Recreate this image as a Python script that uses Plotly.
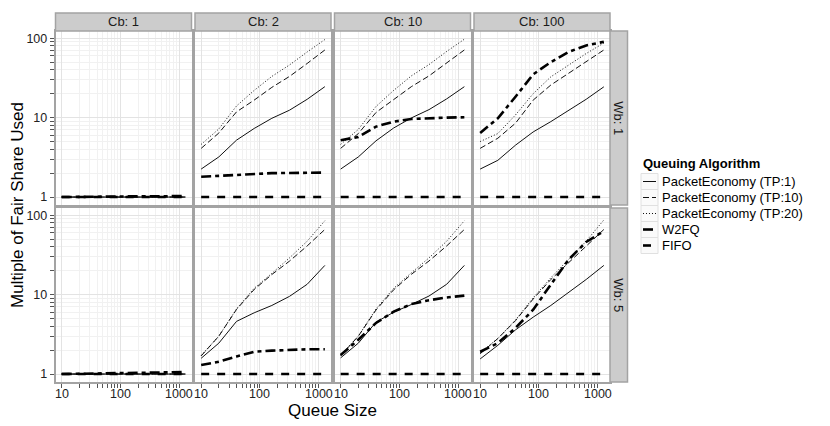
import math
import plotly.graph_objects as go

W, H = 830, 426

# ---------------- data ----------------
queue_size = [10, 20, 40, 80, 160, 320, 640, 1280]

cb_labels = ["Cb: 1", "Cb: 2", "Cb: 10", "Cb: 100"]
wb_labels = ["Wb: 1", "Wb: 5"]
series_names = ["PacketEconomy (TP:1)", "PacketEconomy (TP:10)",
                "PacketEconomy (TP:20)", "W2FQ", "FIFO"]

x_tick_vals = [10, 100, 1000]
x_tick_text = ["10", "100", "1000"]
x_minor_vals = [20, 30, 40, 50, 60, 70, 80, 90, 200, 300, 400, 500, 600, 700, 800, 900]
y_tick_vals = [1, 10, 100]
y_tick_text = ["1", "10", "100"]
y_minor_vals = [2, 3, 4, 5, 6, 7, 8, 9, 20, 30, 40, 50, 60, 70, 80, 90]

# Wb: 1
wb1_cb1_tp1 = [1.00, 1.00, 1.00, 1.00, 1.00, 1.00, 1.00, 1.00]
wb1_cb1_tp10 = [1.00, 1.00, 1.00, 1.00, 1.00, 1.00, 1.00, 1.00]
wb1_cb1_tp20 = [1.00, 1.00, 1.00, 1.00, 1.00, 1.00, 1.00, 1.00]
wb1_cb1_w2fq = [1.00, 1.01, 1.02, 1.01, 1.02, 1.02, 1.03, 1.03]
wb1_cb1_fifo = [1.00, 1.00, 1.00, 1.00, 1.00, 1.00, 1.00, 1.00]

wb1_cb2_tp1 = [2.25, 3.2, 5.2, 7.3, 9.8, 12.4, 17.0, 24.5]
wb1_cb2_tp10 = [4.1, 6.4, 11.8, 16.6, 24.0, 33.0, 48.0, 71.0]
wb1_cb2_tp20 = [4.6, 7.2, 14.0, 22.0, 33.0, 46.0, 67.0, 96.0]
wb1_cb2_w2fq = [1.80, 1.85, 1.93, 1.97, 2.00, 2.01, 2.02, 2.03]
wb1_cb2_fifo = [1.00, 1.00, 1.00, 1.00, 1.00, 1.00, 1.00, 1.00]

wb1_cb10_tp1 = [2.25, 3.2, 5.1, 7.4, 9.9, 12.6, 17.2, 24.5]
wb1_cb10_tp10 = [4.1, 6.3, 11.6, 16.8, 24.5, 33.5, 48.5, 71.0]
wb1_cb10_tp20 = [4.6, 7.1, 13.8, 22.0, 33.5, 46.5, 68.0, 97.0]
wb1_cb10_w2fq = [5.2, 5.7, 7.7, 8.9, 9.6, 9.9, 10.0, 10.1]
wb1_cb10_fifo = [1.00, 1.00, 1.00, 1.00, 1.00, 1.00, 1.00, 1.00]

wb1_cb100_tp1 = [2.25, 2.9, 4.5, 6.6, 8.9, 12.4, 17.0, 24.4]
wb1_cb100_tp10 = [4.1, 5.5, 8.5, 16.6, 25.7, 36.0, 50.0, 71.0]
wb1_cb100_tp20 = [5.0, 6.3, 10.8, 20.0, 32.6, 46.0, 64.0, 87.0]
wb1_cb100_w2fq = [6.4, 9.8, 18.3, 35.0, 50.0, 67.0, 81.0, 90.0]
wb1_cb100_fifo = [1.00, 1.00, 1.00, 1.00, 1.00, 1.00, 1.00, 1.00]

# Wb: 5
wb5_cb1_tp1 = [1.00, 1.00, 1.00, 1.00, 1.00, 1.00, 1.00, 1.00]
wb5_cb1_tp10 = [1.00, 1.00, 1.00, 1.00, 1.00, 1.00, 1.00, 1.00]
wb5_cb1_tp20 = [1.00, 1.00, 1.00, 1.00, 1.00, 1.00, 1.00, 1.00]
wb5_cb1_w2fq = [1.00, 1.01, 1.03, 1.04, 1.04, 1.05, 1.05, 1.06]
wb5_cb1_fifo = [1.00, 1.00, 1.00, 1.00, 1.00, 1.00, 1.00, 1.00]

wb5_cb2_tp1 = [1.58, 2.45, 4.6, 5.9, 7.3, 9.5, 13.5, 23.3]
wb5_cb2_tp10 = [1.69, 3.0, 6.5, 11.6, 17.9, 26.4, 41.0, 66.0]
wb5_cb2_tp20 = [1.72, 3.0, 6.6, 12.0, 18.5, 29.0, 47.0, 85.0]
wb5_cb2_w2fq = [1.30, 1.43, 1.66, 1.91, 1.97, 2.02, 2.05, 2.05]
wb5_cb2_fifo = [1.00, 1.00, 1.00, 1.00, 1.00, 1.00, 1.00, 1.00]

wb5_cb10_tp1 = [1.6, 2.45, 4.5, 6.0, 7.5, 9.6, 13.5, 23.3]
wb5_cb10_tp10 = [1.7, 3.0, 6.4, 11.5, 18.0, 26.5, 41.0, 66.0]
wb5_cb10_tp20 = [1.75, 3.0, 6.6, 12.0, 18.8, 29.0, 47.0, 85.0]
wb5_cb10_w2fq = [1.74, 2.7, 4.4, 6.1, 7.6, 8.5, 9.2, 9.7]
wb5_cb10_fifo = [1.00, 1.00, 1.00, 1.00, 1.00, 1.00, 1.00, 1.00]

wb5_cb100_tp1 = [1.55, 2.3, 3.6, 5.2, 7.3, 10.5, 15.5, 23.3]
wb5_cb100_tp10 = [1.8, 2.8, 4.7, 8.8, 15.5, 25.0, 40.0, 66.0]
wb5_cb100_tp20 = [1.86, 2.8, 4.8, 9.1, 16.3, 27.7, 47.0, 87.0]
wb5_cb100_w2fq = [1.91, 2.45, 3.8, 6.45, 13.4, 27.5, 46.0, 63.0]
wb5_cb100_fifo = [1.00, 1.00, 1.00, 1.00, 1.00, 1.00, 1.00, 1.00]

panels = [
    [
        [wb1_cb1_tp1, wb1_cb1_tp10, wb1_cb1_tp20, wb1_cb1_w2fq, wb1_cb1_fifo],
        [wb1_cb2_tp1, wb1_cb2_tp10, wb1_cb2_tp20, wb1_cb2_w2fq, wb1_cb2_fifo],
        [wb1_cb10_tp1, wb1_cb10_tp10, wb1_cb10_tp20, wb1_cb10_w2fq, wb1_cb10_fifo],
        [wb1_cb100_tp1, wb1_cb100_tp10, wb1_cb100_tp20, wb1_cb100_w2fq, wb1_cb100_fifo],
    ],
    [
        [wb5_cb1_tp1, wb5_cb1_tp10, wb5_cb1_tp20, wb5_cb1_w2fq, wb5_cb1_fifo],
        [wb5_cb2_tp1, wb5_cb2_tp10, wb5_cb2_tp20, wb5_cb2_w2fq, wb5_cb2_fifo],
        [wb5_cb10_tp1, wb5_cb10_tp10, wb5_cb10_tp20, wb5_cb10_w2fq, wb5_cb10_fifo],
        [wb5_cb100_tp1, wb5_cb100_tp10, wb5_cb100_tp20, wb5_cb100_w2fq, wb5_cb100_fifo],
    ],
]

# ---------------- styles ----------------
FONT = "Liberation Sans, Arial, Helvetica, sans-serif"
line_styles = [
    dict(color="#111111", width=1.0, dash="solid"),
    dict(color="#111111", width=1.0, dash="6px,3px"),
    dict(color="#111111", width=1.0, dash="1px,2px"),
    dict(color="#000000", width=2.6, dash="10px,4px,4px,4px"),
    dict(color="#000000", width=2.6, dash="8px,8px"),
]

col_px = [(55.5, 191.5), (195.0, 331.0), (334.5, 470.5), (474.0, 610.0)]
row_px = [(31.0, 205.0), (208.0, 382.0)]
strip_top = (13.0, 31.0)
strip_right = (610.0, 627.5)
x_log_range = [0.895, 3.212]
y_log_range = [-0.1, 2.09]

BORDER = "#A3A3A3"
GRID_MAJ = "#E3E3E3"
GRID_MIN = "#F1F1F1"
STRIP_FILL = "#CCCCCC"
TICK_FONT = dict(family=FONT, size=12.5, color="#222222")


def fx(p):
    return p / W


def fy(p):
    return 1 - p / H


fig = go.Figure()
layout = {}
annotations = []

for r in range(2):
    for c in range(4):
        idx = r * 4 + c + 1
        sfx = "" if idx == 1 else str(idx)
        for s in range(5):
            fig.add_trace(go.Scatter(
                x=queue_size, y=panels[r][c][s], mode="lines",
                name=series_names[s], line=line_styles[s],
                xaxis="x" + sfx, yaxis="y" + sfx, showlegend=False,
                hoverinfo="x+y+name"))
        bottom = (r == 1)
        left = (c == 0)
        layout["xaxis" + sfx] = dict(
            domain=[fx(col_px[c][0]), fx(col_px[c][1])], anchor="y" + sfx,
            type="log", range=x_log_range, showline=True, mirror=True,
            linecolor=BORDER, linewidth=1.5, zeroline=False,
            showgrid=True, gridcolor=GRID_MAJ, gridwidth=1,
            tickvals=x_tick_vals, ticktext=x_tick_text,
            showticklabels=False, ticks="outside" if bottom else "",
            ticklen=4, tickcolor="#555555", tickwidth=1,
            minor=dict(tickvals=x_minor_vals, showgrid=True, gridcolor=GRID_MIN,
                       gridwidth=1, ticks="outside" if bottom else "",
                       ticklen=4, tickcolor="#555555", tickwidth=1),
        )
        layout["yaxis" + sfx] = dict(
            domain=[fy(row_px[r][1]), fy(row_px[r][0])], anchor="x" + sfx,
            type="log", range=y_log_range, showline=True, mirror=True,
            linecolor=BORDER, linewidth=1.5, zeroline=False,
            showgrid=True, gridcolor=GRID_MAJ, gridwidth=1,
            tickvals=y_tick_vals, ticktext=y_tick_text,
            showticklabels=left, ticks="outside" if left else "",
            ticklen=4, tickcolor="#555555", tickwidth=1,
            tickfont=TICK_FONT,
            minor=dict(tickvals=y_minor_vals, showgrid=True, gridcolor=GRID_MIN,
                       gridwidth=1, ticks="outside" if left else "",
                       ticklen=4, tickcolor="#555555", tickwidth=1),
        )
        if bottom:
            # x tick labels placed on the axis' own (log) scale
            for v, t in zip(x_tick_vals, x_tick_text):
                annotations.append(dict(xref="x" + sfx, yref="paper",
                                        x=math.log10(v), y=fy(393.5), text=t,
                                        showarrow=False, xanchor="center",
                                        yanchor="middle", font=TICK_FONT))

shapes = []
# top strips
for c in range(4):
    shapes.append(dict(type="rect", xref="paper", yref="paper",
                       x0=fx(col_px[c][0]), x1=fx(col_px[c][1]),
                       y0=fy(strip_top[1]), y1=fy(strip_top[0]),
                       fillcolor=STRIP_FILL, line=dict(color=BORDER, width=1.5)))
    annotations.append(dict(xref="paper", yref="paper",
                            x=fx((col_px[c][0] + col_px[c][1]) / 2),
                            y=fy((strip_top[0] + strip_top[1]) / 2),
                            text=cb_labels[c], showarrow=False,
                            xanchor="center", yanchor="middle",
                            font=dict(family=FONT, size=13, color="#1a1a1a")))
# right strips
for r in range(2):
    shapes.append(dict(type="rect", xref="paper", yref="paper",
                       x0=fx(strip_right[0]), x1=fx(strip_right[1]),
                       y0=fy(row_px[r][1]), y1=fy(row_px[r][0]),
                       fillcolor=STRIP_FILL, line=dict(color=BORDER, width=1.5)))
    annotations.append(dict(xref="paper", yref="paper",
                            x=fx((strip_right[0] + strip_right[1]) / 2),
                            y=fy((row_px[r][0] + row_px[r][1]) / 2),
                            text=wb_labels[r], showarrow=False, textangle=90,
                            xanchor="center", yanchor="middle",
                            font=dict(family=FONT, size=13, color="#1a1a1a")))

# axis titles
annotations.append(dict(xref="paper", yref="paper", x=fx(332.5), y=fy(410),
                        text="Queue Size", showarrow=False,
                        xanchor="center", yanchor="middle",
                        font=dict(family=FONT, size=17, color="#000000")))
annotations.append(dict(xref="paper", yref="paper", x=fx(18), y=fy(205),
                        text="Multiple of Fair Share Used", showarrow=False,
                        textangle=-90, xanchor="center", yanchor="middle",
                        font=dict(family=FONT, size=17, color="#000000")))

# manual legend
leg_x = 641.0
annotations.append(dict(xref="paper", yref="paper", x=fx(leg_x), y=fy(163),
                        text="<b>Queuing Algorithm</b>", showarrow=False,
                        xanchor="left", yanchor="middle",
                        font=dict(family=FONT, size=13, color="#000000")))
item_y = [181.5, 197.5, 213.5, 229.5, 245.5]
for i, name in enumerate(series_names):
    yc = item_y[i]
    shapes.append(dict(type="rect", xref="paper", yref="paper",
                       x0=fx(leg_x), x1=fx(leg_x + 17), y0=fy(yc + 8), y1=fy(yc - 8),
                       fillcolor="#FAFAFA", line=dict(color="#E0E0E0", width=1)))
    st = line_styles[i]
    shapes.append(dict(type="line", xref="paper", yref="paper",
                       x0=fx(leg_x + 2), x1=fx(leg_x + 15), y0=fy(yc), y1=fy(yc),
                       line=dict(color=st["color"], width=st["width"], dash=st["dash"])))
    annotations.append(dict(xref="paper", yref="paper", x=fx(leg_x + 19), y=fy(yc),
                            text=name, showarrow=False, xanchor="left", yanchor="middle",
                            font=dict(family=FONT, size=13, color="#000000")))

fig.update_layout(
    width=W, height=H, autosize=False,
    margin=dict(l=0, r=0, t=0, b=0),
    paper_bgcolor="white", plot_bgcolor="white",
    shapes=shapes, annotations=annotations, showlegend=False,
    font=dict(family=FONT, size=12, color="#000000"),
    **layout,
)

fig.write_html("out.html", config={"displayModeBar": False},
               post_script="document.body.style.margin='0';document.body.style.overflow='hidden';")
